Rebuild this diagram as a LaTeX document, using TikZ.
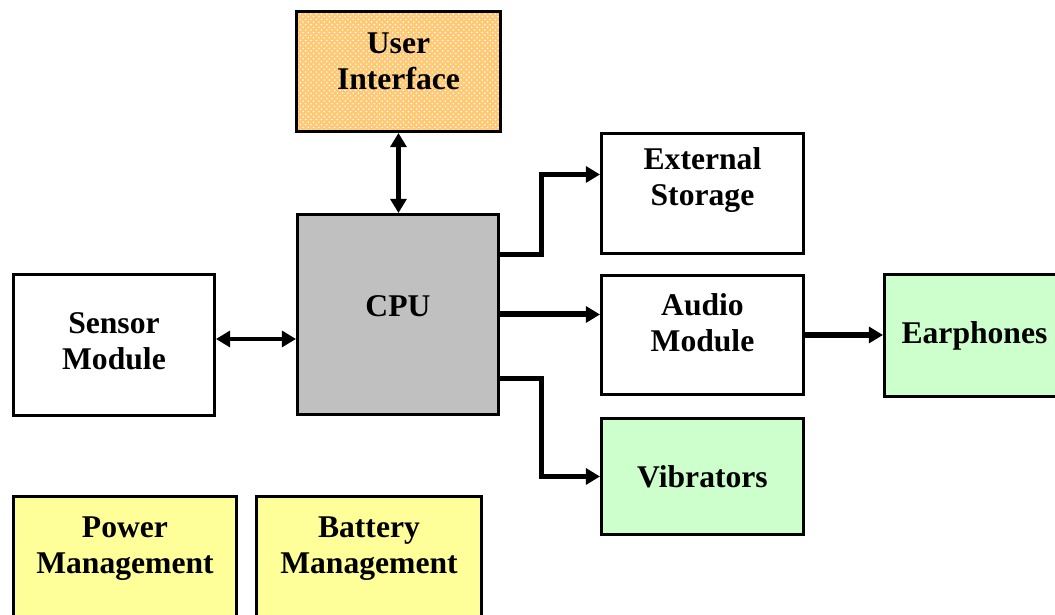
\documentclass[tikz,border=0pt]{standalone}
\usepackage{fontspec}
\setmainfont{Liberation Serif}
\usetikzlibrary{arrows.meta,calc,patterns,positioning}

\definecolor{cpugray}{RGB}{192,192,192}
\definecolor{uiorange}{RGB}{255,200,115}
\definecolor{outgreen}{RGB}{204,255,204}
\definecolor{pwryellow}{RGB}{255,255,153}

\tikzset{
  block/.style={draw, line width=1.7pt, inner sep=0pt, anchor=north west},
  txt/.style={align=center, inner sep=0pt, font=\bfseries\fontsize{18}{20.5}\selectfont},
  link/.style={line width=2.8pt, -{Triangle[length=8pt,width=9pt]}},
  biglink/.style={link, {Triangle[length=8pt,width=9pt]}-{Triangle[length=8pt,width=9pt]}},
}

\begin{document}
\begin{tikzpicture}[x=0.02cm, y=-0.02cm]
  \useasboundingbox (0,0) rectangle (1055,615);
  \clip (0,0) rectangle (1055,615);

  % Blocs
  \node[block, preaction={fill=uiorange}, pattern=crosshatch dots, pattern color=white,
        minimum width=4.08cm, minimum height=2.4cm,
        label={[txt, name=ui-text, yshift=5.7pt]center:User\\Interface}] (ui) at (295,10) {};
  \node[block, fill=cpugray, minimum width=4.02cm, minimum height=4cm,
        label={[txt, name=cpu-text, yshift=4.5pt]center:CPU}] (cpu) at (296,213) {};
  \node[block, minimum width=4.02cm, minimum height=2.82cm,
        label={[txt, name=sensor-text, yshift=2pt]center:Sensor\\Module}] (sensor) at (12,273) {};
  \node[block, minimum width=4.04cm, minimum height=2.4cm,
        label={[txt, name=ext-text, yshift=7.4pt]center:External\\Storage}] (ext) at (600,132) {};
  \node[block, minimum width=4.04cm, minimum height=2.38cm,
        label={[txt, name=audio-text, yshift=6.8pt]center:Audio\\Module}] (audio) at (600,274) {};
  \node[block, fill=outgreen, minimum width=4.04cm, minimum height=2.32cm,
        label={[txt, name=vib-text]center:Vibrators}] (vib) at (600,417) {};
  \node[block, fill=outgreen, minimum width=3.6cm, minimum height=2.44cm,
        label={[txt, name=earph-text]center:Earphones}] (earph) at (883,273) {};

  % Alimentation
  \node[block, fill=pwryellow, minimum width=4.46cm, minimum height=2.6cm,
        label={[txt, name=power-text, yshift=7.5pt]center:Power\\Management}] (power) at (12,495) {};
  \node[block, fill=pwryellow, minimum width=4.5cm, minimum height=2.6cm,
        label={[txt, name=battery-text, yshift=7.5pt]center:Battery\\Management}] (battery) at (255,495) {};

  % Liaisons
  \draw[biglink] (ui.south) -- (ui.south |- cpu.north);
  \coordinate (sensor out) at ($(sensor.east)+(0,-6)$);
  \draw[biglink] (sensor out) -- (sensor out -| cpu.west);

  \coordinate (ext in) at ($(ext.west)+(0,-19)$);
  \draw[link] ($(cpu.east)+(0,-60)$) -- ++(42,0) |- (ext in);
  \draw[link, line width=3.4pt] (cpu.east) -- (cpu.east -| audio.west);
  \draw[link] ($(cpu.east)+(0,64)$) -- ++(42,0) |- (vib.west);
  \draw[link, line width=3.2pt] (audio.east) -- (audio.east -| earph.west);
\end{tikzpicture}
\end{document}
